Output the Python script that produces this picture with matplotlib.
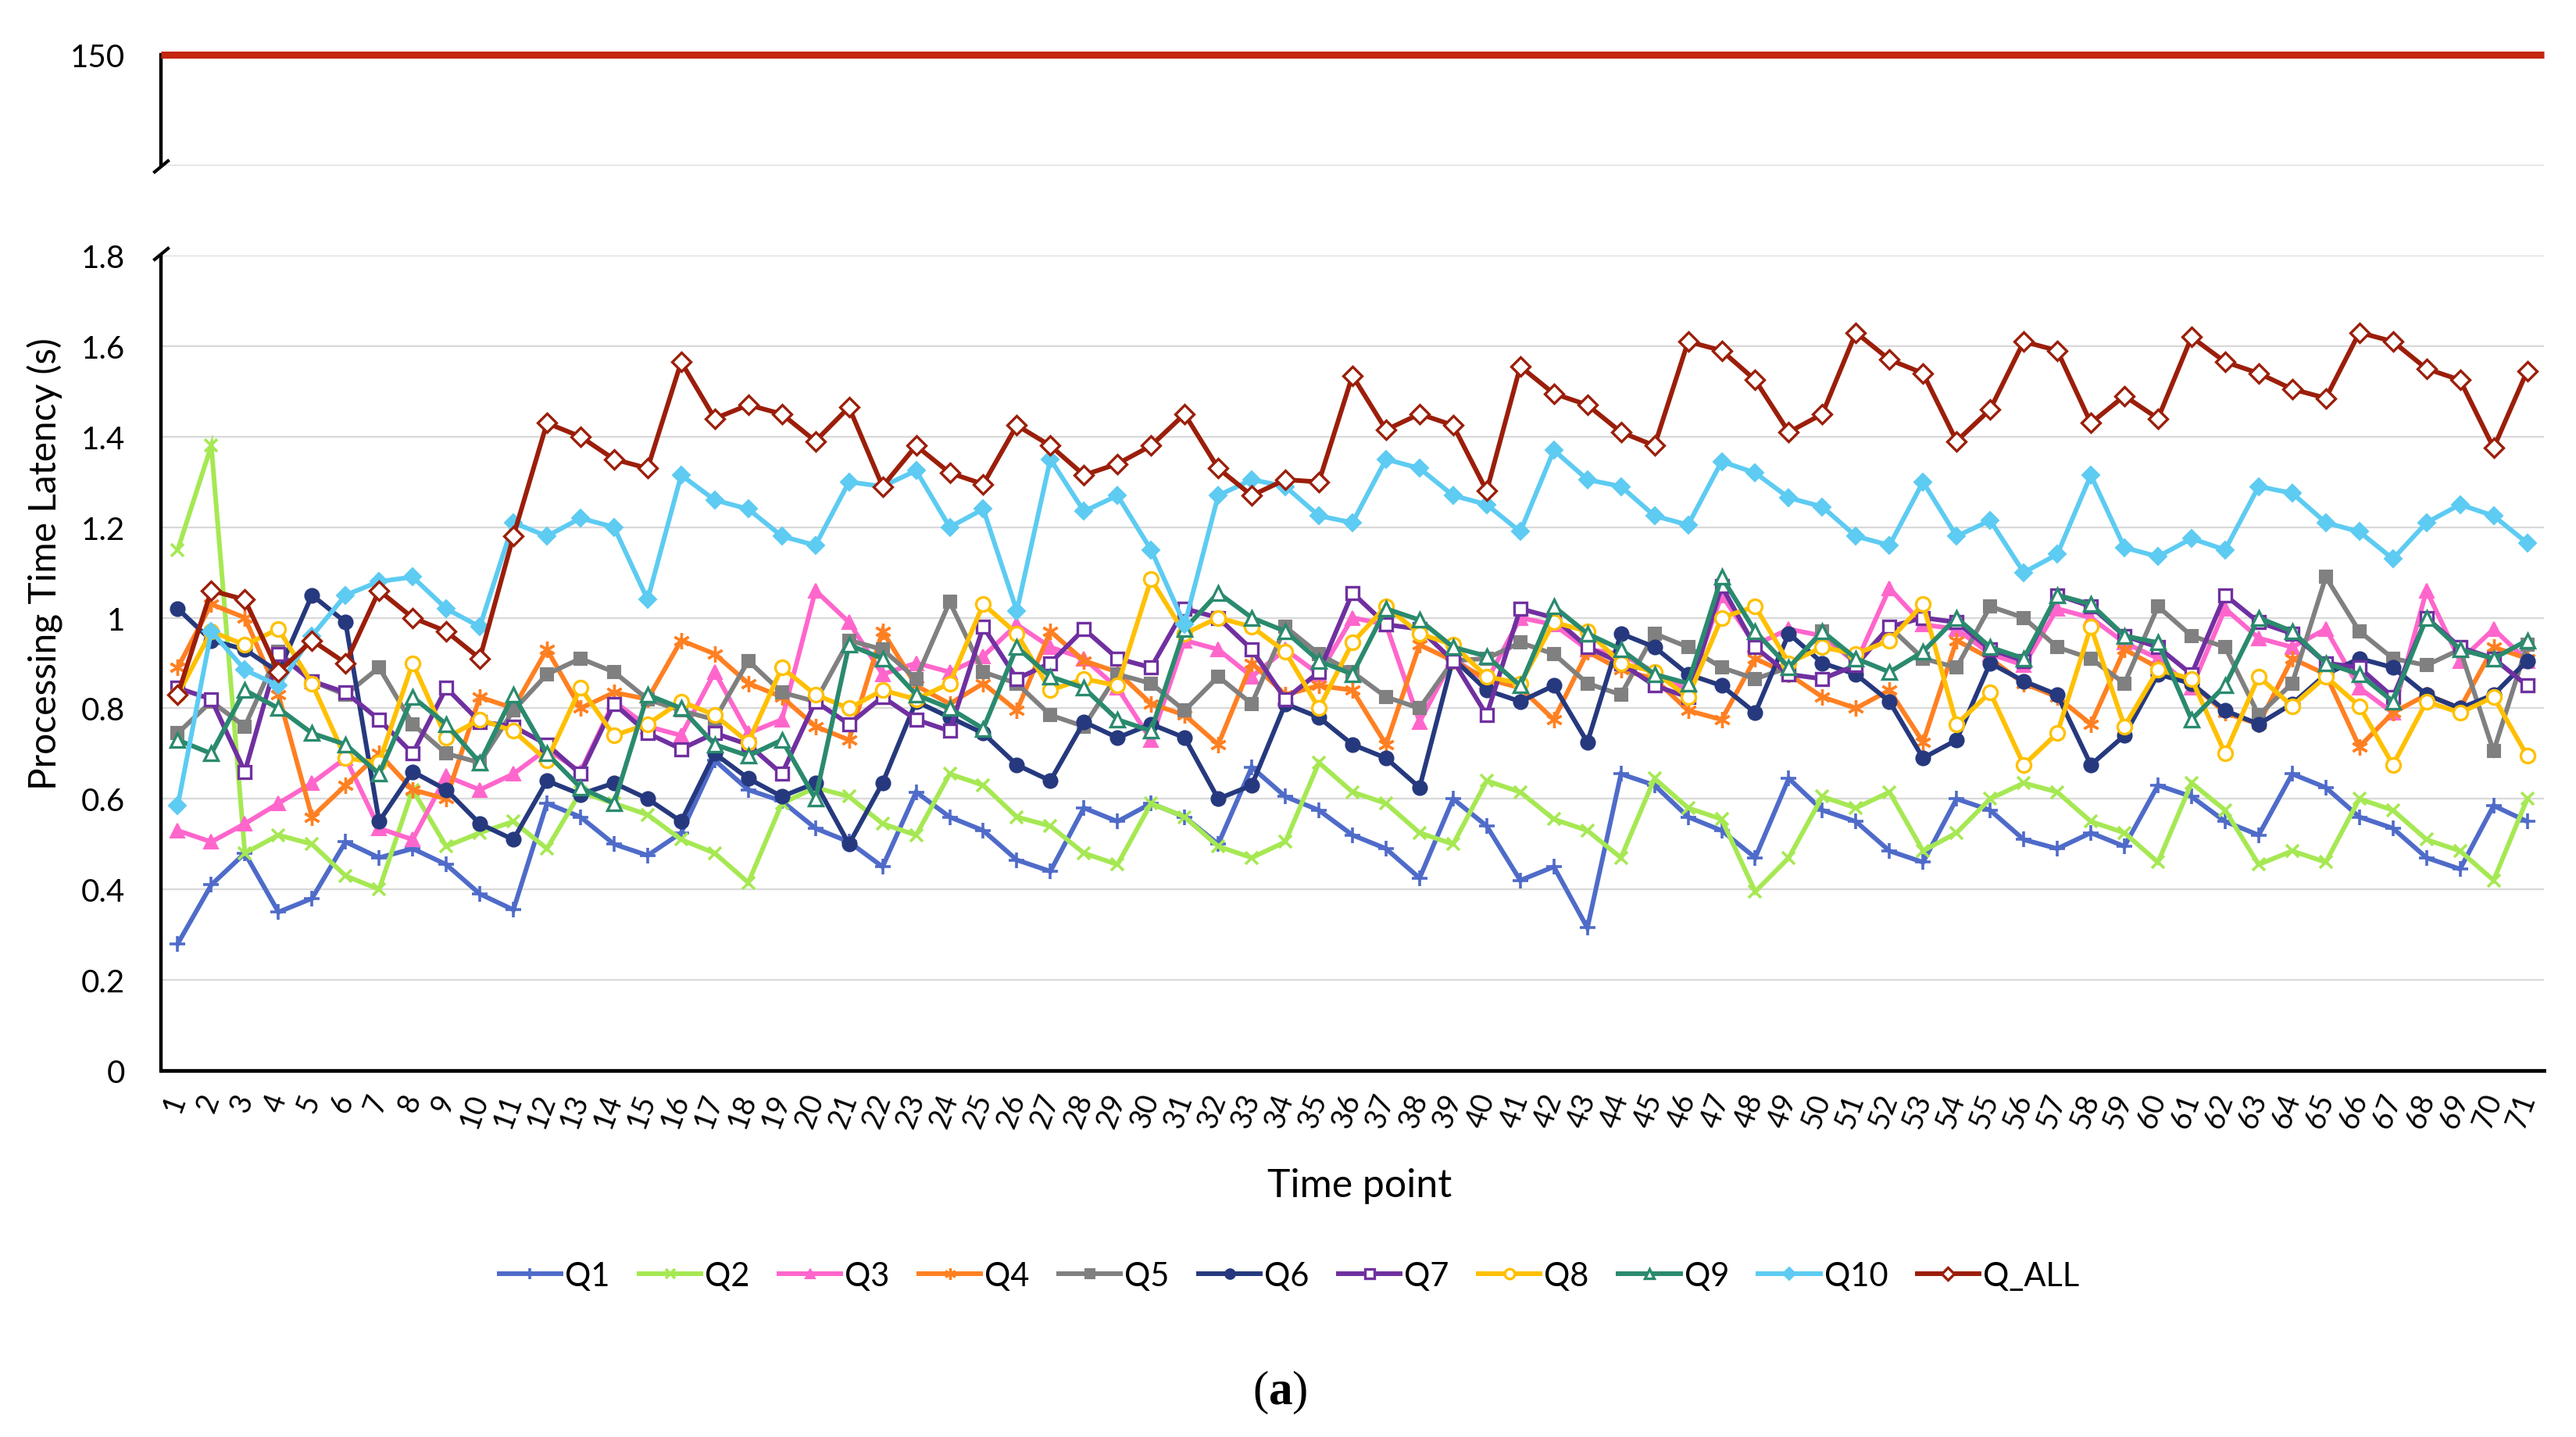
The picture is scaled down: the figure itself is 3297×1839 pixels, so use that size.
import matplotlib
matplotlib.use("Agg")
import matplotlib.pyplot as plt
from matplotlib.lines import Line2D

plt.rcParams['font.family'] = ['Lato', 'DejaVu Sans']
plt.rcParams['mathtext.fontset'] = 'custom'
plt.rcParams['mathtext.rm'] = 'Liberation Serif'
plt.rcParams['mathtext.bf'] = 'Liberation Serif:bold'

time_points = list(range(1, 72))

q1 = [0.28, 0.41, 0.48, 0.35, 0.38, 0.505, 0.47, 0.49, 0.455, 0.39, 0.355, 0.59,
      0.56, 0.50, 0.475, 0.525, 0.685, 0.62, 0.595, 0.535, 0.505, 0.45, 0.615, 0.56,
      0.53, 0.465, 0.44, 0.58, 0.55, 0.59, 0.56, 0.50, 0.67, 0.605, 0.575, 0.52,
      0.49, 0.425, 0.60, 0.54, 0.42, 0.45, 0.315, 0.655, 0.63, 0.56, 0.53, 0.47,
      0.645, 0.575, 0.55, 0.485, 0.46, 0.60, 0.575, 0.51, 0.49, 0.525, 0.495, 0.63,
      0.605, 0.55, 0.52, 0.655, 0.625, 0.56, 0.535, 0.47, 0.445, 0.585, 0.55]
q2 = [1.15, 1.38, 0.48, 0.52, 0.50, 0.43, 0.40, 0.62, 0.495, 0.525, 0.55, 0.49,
      0.615, 0.59, 0.565, 0.51, 0.48, 0.415, 0.59, 0.625, 0.605, 0.545, 0.52, 0.655,
      0.63, 0.56, 0.54, 0.48, 0.455, 0.59, 0.56, 0.495, 0.47, 0.505, 0.68, 0.615,
      0.59, 0.525, 0.50, 0.64, 0.615, 0.555, 0.53, 0.47, 0.645, 0.58, 0.555, 0.395,
      0.47, 0.605, 0.58, 0.615, 0.485, 0.525, 0.60, 0.635, 0.615, 0.55, 0.525, 0.46,
      0.635, 0.575, 0.455, 0.485, 0.46, 0.60, 0.575, 0.51, 0.485, 0.42, 0.60]
q3 = [0.53, 0.505, 0.545, 0.59, 0.635, 0.69, 0.535, 0.51, 0.65, 0.62, 0.655, 0.71,
      0.66, 0.815, 0.76, 0.74, 0.88, 0.745, 0.775, 1.06, 0.99, 0.875, 0.90, 0.88,
      0.915, 0.985, 0.935, 0.91, 0.845, 0.73, 0.95, 0.93, 0.87, 0.93, 0.875, 1.00,
      0.985, 0.77, 0.91, 0.86, 1.00, 0.985, 0.93, 0.92, 0.88, 0.84, 1.05, 0.94,
      0.975, 0.96, 0.90, 1.065, 0.985, 0.975, 0.92, 0.895, 1.02, 1.00, 0.945, 0.91,
      0.845, 1.02, 0.955, 0.935, 0.975, 0.845, 0.79, 1.06, 0.905, 0.975, 0.905]
q4 = [0.89, 1.03, 1.00, 0.83, 0.56, 0.63, 0.70, 0.62, 0.60, 0.825, 0.80, 0.93,
      0.80, 0.835, 0.82, 0.95, 0.92, 0.855, 0.825, 0.76, 0.73, 0.97, 0.85, 0.81,
      0.855, 0.795, 0.97, 0.905, 0.88, 0.81, 0.785, 0.72, 0.90, 0.83, 0.85, 0.84,
      0.72, 0.94, 0.905, 0.865, 0.845, 0.775, 0.925, 0.885, 0.865, 0.795, 0.775, 0.91,
      0.875, 0.825, 0.80, 0.84, 0.725, 0.95, 0.91, 0.855, 0.825, 0.765, 0.93, 0.89,
      0.855, 0.79, 0.765, 0.91, 0.875, 0.715, 0.79, 0.83, 0.80, 0.935, 0.91]
q5 = [0.745, 0.815, 0.76, 0.925, 0.86, 0.83, 0.89, 0.765, 0.70, 0.68, 0.795, 0.875,
      0.91, 0.88, 0.82, 0.795, 0.775, 0.905, 0.835, 0.815, 0.95, 0.93, 0.865, 1.035,
      0.88, 0.855, 0.785, 0.76, 0.875, 0.855, 0.795, 0.87, 0.81, 0.98, 0.92, 0.88,
      0.825, 0.80, 0.905, 0.91, 0.945, 0.92, 0.855, 0.83, 0.965, 0.935, 0.89, 0.865,
      0.89, 0.97, 0.90, 0.98, 0.91, 0.89, 1.025, 1.00, 0.935, 0.91, 0.855, 1.025,
      0.96, 0.935, 0.785, 0.855, 1.09, 0.97, 0.91, 0.895, 0.93, 0.705, 0.94]
q6 = [1.02, 0.95, 0.93, 0.88, 1.05, 0.99, 0.55, 0.66, 0.62, 0.545, 0.51, 0.64,
      0.61, 0.635, 0.60, 0.55, 0.70, 0.645, 0.605, 0.635, 0.50, 0.635, 0.815, 0.78,
      0.745, 0.675, 0.64, 0.77, 0.735, 0.765, 0.735, 0.60, 0.63, 0.81, 0.78, 0.72,
      0.69, 0.625, 0.91, 0.84, 0.815, 0.85, 0.725, 0.965, 0.935, 0.875, 0.85, 0.79,
      0.965, 0.90, 0.875, 0.815, 0.69, 0.73, 0.90, 0.86, 0.83, 0.675, 0.74, 0.875,
      0.855, 0.795, 0.765, 0.81, 0.875, 0.91, 0.89, 0.83, 0.80, 0.83, 0.905]
q7 = [0.845, 0.82, 0.66, 0.92, 0.86, 0.835, 0.775, 0.70, 0.845, 0.77, 0.76, 0.72,
      0.655, 0.81, 0.745, 0.71, 0.745, 0.72, 0.655, 0.815, 0.765, 0.825, 0.775, 0.75,
      0.98, 0.865, 0.90, 0.975, 0.91, 0.89, 1.02, 1.00, 0.93, 0.82, 0.88, 1.055,
      0.985, 0.975, 0.905, 0.785, 1.02, 1.00, 0.935, 0.90, 0.85, 0.825, 1.07, 0.935,
      0.875, 0.865, 0.895, 0.98, 1.00, 0.99, 0.93, 0.905, 1.05, 1.025, 0.96, 0.935,
      0.875, 1.05, 0.99, 0.965, 0.90, 0.89, 0.825, 1.00, 0.935, 0.91, 0.85]
q8 = [0.83, 0.97, 0.94, 0.975, 0.855, 0.69, 0.68, 0.90, 0.735, 0.775, 0.75, 0.685,
      0.845, 0.74, 0.765, 0.815, 0.785, 0.725, 0.89, 0.83, 0.80, 0.84, 0.82, 0.855,
      1.03, 0.965, 0.84, 0.865, 0.85, 1.085, 0.965, 1.00, 0.98, 0.925, 0.80, 0.945,
      1.025, 0.965, 0.94, 0.87, 0.855, 0.99, 0.97, 0.90, 0.88, 0.825, 1.00, 1.025,
      0.90, 0.935, 0.92, 0.95, 1.03, 0.765, 0.835, 0.675, 0.745, 0.98, 0.76, 0.885,
      0.865, 0.70, 0.87, 0.805, 0.87, 0.805, 0.675, 0.815, 0.79, 0.825, 0.695]
q9 = [0.73, 0.70, 0.84, 0.80, 0.745, 0.72, 0.655, 0.825, 0.765, 0.68, 0.83, 0.70,
      0.625, 0.59, 0.83, 0.80, 0.72, 0.695, 0.73, 0.60, 0.94, 0.91, 0.83, 0.80,
      0.755, 0.935, 0.87, 0.845, 0.775, 0.75, 0.975, 1.055, 1.00, 0.97, 0.905, 0.875,
      1.02, 0.995, 0.935, 0.915, 0.85, 1.025, 0.965, 0.93, 0.875, 0.855, 1.09, 0.97,
      0.89, 0.97, 0.91, 0.88, 0.925, 1.00, 0.935, 0.91, 1.05, 1.03, 0.96, 0.945,
      0.775, 0.85, 1.00, 0.97, 0.90, 0.875, 0.815, 1.00, 0.93, 0.91, 0.95]
q10 = [0.585, 0.97, 0.885, 0.85, 0.96, 1.05, 1.08, 1.09, 1.02, 0.98, 1.21, 1.18,
       1.22, 1.20, 1.04, 1.315, 1.26, 1.24, 1.18, 1.16, 1.30, 1.29, 1.325, 1.20,
       1.24, 1.015, 1.35, 1.235, 1.27, 1.15, 0.985, 1.27, 1.305, 1.29, 1.225, 1.21,
       1.35, 1.33, 1.27, 1.25, 1.19, 1.37, 1.305, 1.29, 1.225, 1.205, 1.345, 1.32,
       1.265, 1.245, 1.18, 1.16, 1.30, 1.18, 1.215, 1.10, 1.14, 1.315, 1.155, 1.135,
       1.175, 1.15, 1.29, 1.275, 1.21, 1.19, 1.13, 1.21, 1.25, 1.225, 1.165]
q_all = [0.83, 1.06, 1.04, 0.88, 0.95, 0.90, 1.06, 1.00, 0.97, 0.91, 1.18, 1.43,
         1.40, 1.35, 1.33, 1.565, 1.44, 1.47, 1.45, 1.39, 1.465, 1.29, 1.38, 1.32,
         1.295, 1.425, 1.38, 1.315, 1.34, 1.38, 1.45, 1.33, 1.27, 1.305, 1.30, 1.535,
         1.415, 1.45, 1.425, 1.28, 1.555, 1.495, 1.47, 1.41, 1.38, 1.61, 1.59, 1.525,
         1.41, 1.45, 1.63, 1.57, 1.54, 1.39, 1.46, 1.61, 1.59, 1.43, 1.49, 1.44,
         1.62, 1.565, 1.54, 1.505, 1.485, 1.63, 1.61, 1.55, 1.525, 1.375, 1.545]
top_value = 150

series_names = ['Q1', 'Q2', 'Q3', 'Q4', 'Q5', 'Q6', 'Q7', 'Q8', 'Q9', 'Q10', 'Q_ALL']
series_values = [q1, q2, q3, q4, q5, q6, q7, q8, q9, q10, q_all]
yticks_bottom = [0, 0.2, 0.4, 0.6, 0.8, 1.0, 1.2, 1.4, 1.6, 1.8]
ytick_labels_bottom = ['0', '0.2', '0.4', '0.6', '0.8', '1', '1.2', '1.4', '1.6', '1.8']

styles = {
    'Q1': dict(color='#4F6BC9', marker='+', mfc='#4F6BC9', mec='#4F6BC9', ms=14, mew=2.6),
    'Q2': dict(color='#A6E853', marker='x', mfc='#A6E853', mec='#A6E853', ms=12, mew=2.6),
    'Q3': dict(color='#FF66CC', marker='^', mfc='#FF66CC', mec='#FF66CC', ms=13, mew=1.5),
    'Q4': dict(color='#FF8022', marker=(6, 2, 0), mfc='#FF8022', mec='#FF8022', ms=15, mew=2.4),
    'Q5': dict(color='#808080', marker='s', mfc='#808080', mec='#808080', ms=12, mew=1.5),
    'Q6': dict(color='#26397E', marker='o', mfc='#26397E', mec='#26397E', ms=13, mew=1.5),
    'Q7': dict(color='#7030A0', marker='s', mfc='white', mec='#7030A0', ms=12, mew=2.4),
    'Q8': dict(color='#FFC000', marker='o', mfc='white', mec='#FFC000', ms=13, mew=2.4),
    'Q9': dict(color='#2A8A6E', marker='^', mfc='white', mec='#2A8A6E', ms=13, mew=2.4),
    'Q10': dict(color='#5DCBF2', marker='D', mfc='#5DCBF2', mec='#5DCBF2', ms=11, mew=1.5),
    'Q_ALL': dict(color='#9B1E0A', marker='D', mfc='white', mec='#9B1E0A', ms=12, mew=2.4),
}

W, H = 3298, 1840
fig = plt.figure(figsize=(W / 100, H / 100), dpi=100)
fig.patch.set_facecolor('white')

def fx(px):
    return px / W

def fy(py):
    return 1 - py / H

left_px, right_px = 206, 3256
ax = fig.add_axes([fx(left_px), fy(1371), fx(right_px) - fx(left_px), fy(328) - fy(1371)])
ax_top = fig.add_axes([fx(left_px), fy(213), fx(right_px) - fx(left_px), fy(71) - fy(213)])

for name, vals in zip(series_names, series_values):
    st = styles[name]
    ax.plot(time_points, vals, color=st['color'], lw=4.3, marker=st['marker'],
            markerfacecolor=st['mfc'], markeredgecolor=st['mec'],
            markersize=st['ms'], markeredgewidth=st['mew'], label=name,
            solid_joinstyle='miter', zorder=3, clip_on=False)

ax.set_xlim(0.5, 71.5)
ax.set_ylim(0, 1.8)
ax.set_yticks(yticks_bottom)
ax.set_yticklabels(ytick_labels_bottom)
ax.set_xticks(time_points)
ax.set_xticklabels([str(t) for t in time_points], rotation=70, ha='right', va='center',
                   rotation_mode='anchor', fontsize=27)
ax.tick_params(axis='x', length=0, pad=22)
ax.tick_params(axis='y', length=0, pad=33, labelsize=29)
ax.yaxis.grid(True, color='#D9D9D9', lw=1.6)
ax.set_axisbelow(True)
for s in ['top', 'right']:
    ax.spines[s].set_visible(False)
ax.spines['left'].set_linewidth(3.2)
ax.spines['bottom'].set_linewidth(3.4)

# top panel (broken axis)
ax_top.set_xlim(0.5, 71.5)
ax_top.set_ylim(149, 150)
ax_top.set_yticks([149, 150])
ax_top.set_yticklabels(['', '150'])
ax_top.set_xticks([])
ax_top.tick_params(axis='y', length=0, pad=33, labelsize=29)
ax_top.yaxis.grid(True, color='#D9D9D9', lw=1.6)
ax_top.set_axisbelow(True)
for s in ['top', 'right', 'bottom']:
    ax_top.spines[s].set_visible(False)
ax_top.spines['left'].set_linewidth(3.2)
ax_top.plot([0.5, 71.5], [top_value, top_value], color='#C4260E', lw=6.5,
            solid_capstyle='butt', clip_on=False, zorder=3)

# break marks
for (x0, y0, x1, y1) in [(198, 221, 215, 207), (198, 333, 215, 319)]:
    fig.add_artist(Line2D([fx(x0), fx(x1)], [fy(y0), fy(y1)], color='black', lw=3.0,
                          transform=fig.transFigure))

fig.text(fx(58), fy(722), 'Processing Time Latency (s)', rotation=90, ha='center',
         va='center', fontsize=34.5)
fig.text(fx(1740), fy(1518), 'Time point', ha='center', va='center', fontsize=36)

handles, labels = ax.get_legend_handles_labels()
fig.legend(handles, labels, loc='center', bbox_to_anchor=(fx(1650), fy(1634)), ncol=11,
           frameon=False, fontsize=30, handlelength=1.9, handletextpad=0.12,
           columnspacing=0.9, markerscale=0.7)

fig.text(fx(1638), fy(1782), r'$\mathrm{(}\mathbf{a}\mathrm{)}$', ha='center', va='center',
         fontsize=44)

fig.savefig('out.png', dpi=100, facecolor='white')
